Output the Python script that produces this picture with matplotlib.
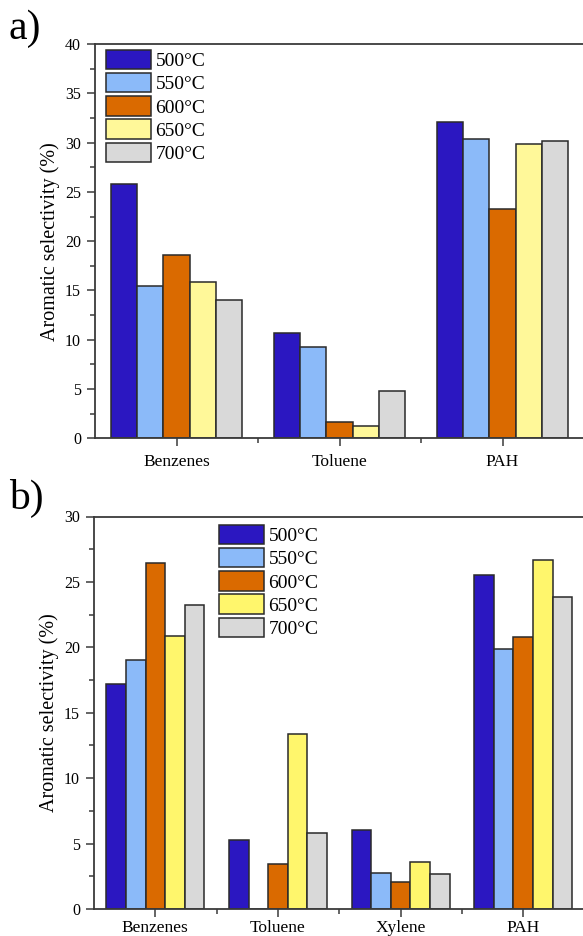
import numpy as np
import matplotlib
matplotlib.use('Agg')
import matplotlib.pyplot as plt
from matplotlib.ticker import MultipleLocator, FixedLocator

plt.rcParams['font.family'] = ['Liberation Serif', 'DejaVu Serif']

# legend labels and colours
temps = ['500°C', '550°C', '600°C', '650°C', '700°C']
colors_a = ['#2b17c1', '#8bbaf9', '#da6a00', '#fff899', '#d9d9d9']
colors_b = ['#2b17c1', '#8bbaf9', '#da6a00', '#fff66c', '#d9d9d9']

# panel a) aromatic selectivity (%)
cats_a = ['Benzenes', 'Toluene', 'PAH']
a_500 = [25.8, 10.7, 32.1]
a_550 = [15.45, 9.3, 30.35]
a_600 = [18.55, 1.65, 23.3]
a_650 = [15.85, 1.2, 29.85]
a_700 = [14.05, 4.8, 30.2]

# panel b) aromatic selectivity (%)
cats_b = ['Benzenes', 'Toluene', 'Xylene', 'PAH']
b_500 = [17.2, 5.3, 6.05, 25.55]
b_550 = [19.05, 0.0, 2.75, 19.9]
b_600 = [26.45, 3.45, 2.1, 20.8]
b_650 = [20.9, 13.4, 3.6, 26.7]
b_700 = [23.2, 5.8, 2.65, 23.85]

W, H = 583, 936
spine_col = '#3a3a3a'


def bar_panel(ax, cats, series, colors, ymax, legend_xy, xpad):
    x = np.arange(len(cats))
    bw = 0.16
    for i, (vals, c) in enumerate(zip(series, colors)):
        ax.bar(x + (i - 2) * bw, vals, bw, color=c, edgecolor='#2a2a2a',
               linewidth=1.1, label=temps[i])
    ax.set_xlim(-0.5, len(cats) - 0.5)
    ax.set_ylim(0, ymax)
    ax.set_xticks(x)
    ax.set_xticklabels(cats, fontsize=12.5)
    ax.xaxis.set_minor_locator(FixedLocator(np.arange(len(cats)) + 0.5))
    ax.yaxis.set_major_locator(MultipleLocator(5))
    ax.yaxis.set_minor_locator(MultipleLocator(2.5))
    ax.tick_params(which='major', direction='out', length=6, width=1.1,
                   color=spine_col, labelsize=11.5, pad=4)
    ax.tick_params(which='minor', direction='out', length=3.5, width=1.1,
                   color=spine_col)
    ax.tick_params(axis='x', which='major', labelsize=12.5, pad=xpad)
    for s in ['left', 'bottom', 'top']:
        ax.spines[s].set_color(spine_col)
        ax.spines[s].set_linewidth(1.3)
    ax.spines['right'].set_visible(False)
    ax.set_ylabel('Aromatic selectivity (%)', fontsize=14.5, labelpad=4)
    ax.legend(loc='upper left', bbox_to_anchor=legend_xy,
              bbox_transform=ax.figure.transFigure, frameon=False,
              fontsize=14, handlelength=2.3, handleheight=1.15,
              labelspacing=0.15, handletextpad=0.25, borderpad=0,
              borderaxespad=0)


fig = plt.figure(figsize=(W / 100, H / 100), dpi=100)

ax_a = fig.add_axes([95 / W, 1 - 438.3 / H, 489 / W, 394.3 / H])
bar_panel(ax_a, cats_a, [a_500, a_550, a_600, a_650, a_700], colors_a, 40,
          (106 / W, 1 - 50 / H), 5)

ax_b = fig.add_axes([94 / W, 1 - 909 / H, 490.5 / W, 392.5 / H])
bar_panel(ax_b, cats_b, [b_500, b_550, b_600, b_650, b_700], colors_b, 30,
          (219 / W, 1 - 525 / H), 2)

fig.text(9 / W, 1 - 9 / H, 'a)', fontsize=30, va='top', ha='left')
fig.text(9 / W, 1 - 479 / H, 'b)', fontsize=30, va='top', ha='left')

fig.savefig('out.png', dpi=100)
